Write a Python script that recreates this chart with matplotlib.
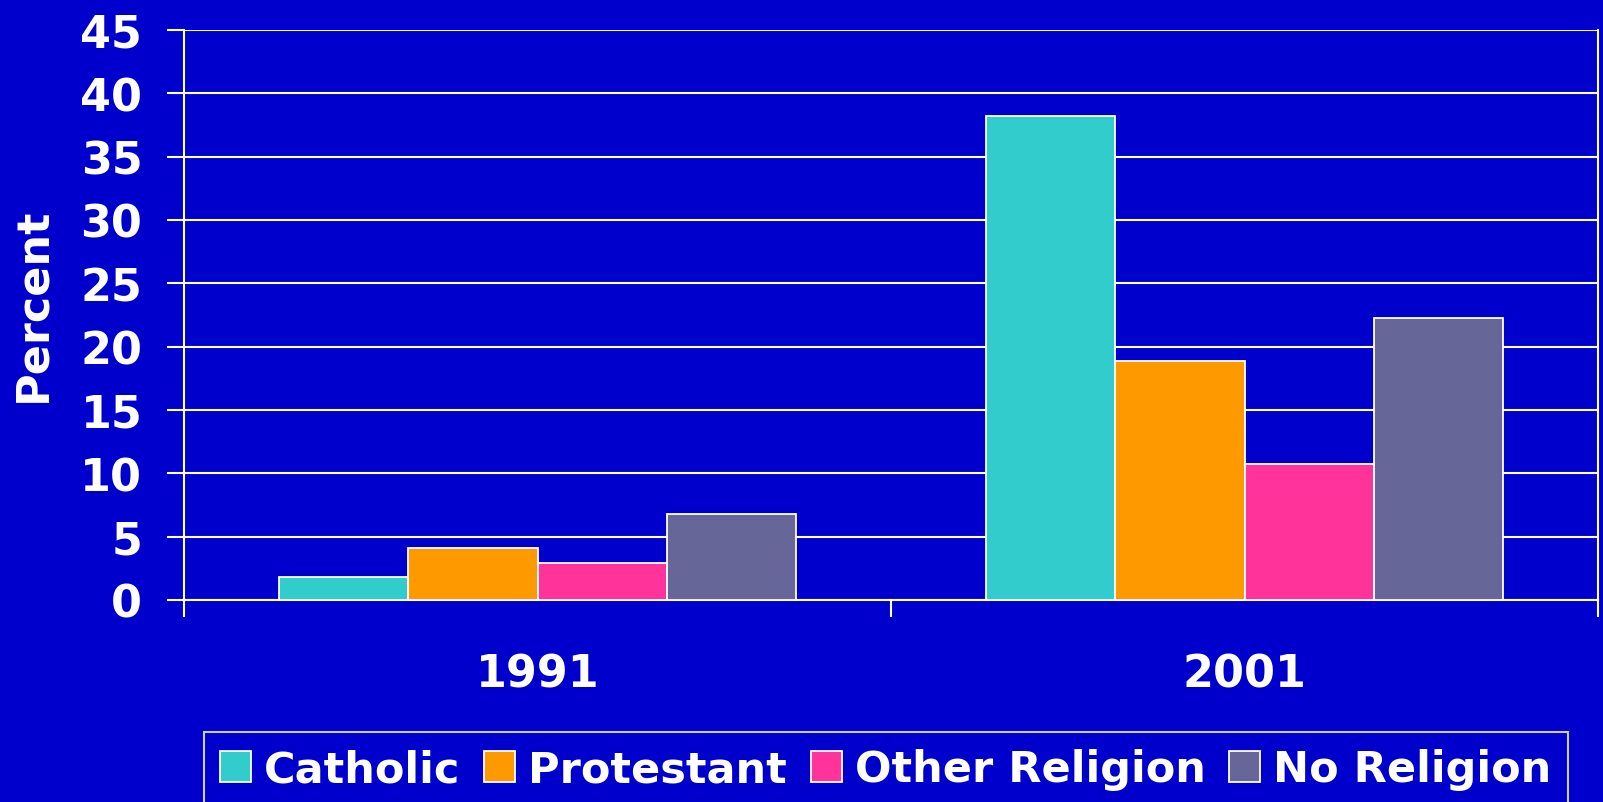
import matplotlib
matplotlib.use("Agg")
import matplotlib.pyplot as plt
import numpy as np

years = ["1991", "2001"]
series_names = ["Catholic", "Protestant", "Other Religion", "No Religion"]
catholic = [1.8, 38.2]
protestant = [4.1, 18.9]
other_religion = [2.9, 10.7]
no_religion = [6.8, 22.3]
y_ticks = [0, 5, 10, 15, 20, 25, 30, 35, 40, 45]

values = [catholic, protestant, other_religion, no_religion]
colors = ["#33CCCC", "#FF9900", "#FF3399", "#666699"]
bg = "#0000CC"

plt.rcParams['font.family'] = ['DejaVu Sans']
plt.rcParams['font.weight'] = 'bold'

fig = plt.figure(figsize=(16.03, 8.03), dpi=100, facecolor=bg)
ax = fig.add_axes([184/1603, 1 - 601/803, (1598-184)/1603, (601-31)/803])
ax.set_facecolor(bg)

bw = 0.1825
centers = np.arange(len(years)) + 0.5
handles = []
for i, (name, vals, c) in enumerate(zip(series_names, values, colors)):
    h = ax.bar(centers + (i - 1.5) * bw, vals, width=bw, color=c,
               edgecolor="white", linewidth=1.3, label=name, zorder=3)
    handles.append(h)

ax.set_xlim(0, len(years))
ax.set_ylim(0, 45)
ax.set_yticks(y_ticks)
ax.set_yticklabels([str(t) for t in y_ticks], fontsize=32, fontweight='bold', color='white')
ax.yaxis.grid(True, color='white', linewidth=1.5, zorder=0)
ax.set_axisbelow(True)

ax.set_xticks(np.arange(len(years) + 1))
ax.set_xticklabels([])
ax.set_xticks(centers, minor=True)
ax.set_xticklabels(years, minor=True, fontsize=32, fontweight='bold', color='white')
ax.tick_params(axis='x', which='major', length=12, width=1.5, color='white', direction='out')
ax.tick_params(axis='x', which='minor', length=0, pad=38)
ax.tick_params(axis='y', length=12, width=1.5, color='white', pad=18)

for s in ['left', 'bottom', 'right']:
    ax.spines[s].set_color('white')
    ax.spines[s].set_linewidth(1.5)
ax.spines['top'].set_visible(False)

fig.text(33/1603, 1 - 305/803, "Percent", rotation=90, fontsize=32, fontweight='bold',
         color='white', ha='center', va='center')

leg = fig.legend(handles=handles, labels=series_names, ncol=4,
                 loc='upper left', bbox_to_anchor=(204/1603, 1 - 733/803),
                 fontsize=31, frameon=True, fancybox=False,
                 handlelength=0.72, handleheight=0.72, handletextpad=0.3,
                 columnspacing=0.55, borderpad=0.38, borderaxespad=0)
leg.get_frame().set_facecolor(bg)
leg.get_frame().set_edgecolor('white')
leg.get_frame().set_linewidth(1.5)
for t in leg.get_texts():
    t.set_color('white')
    t.set_fontweight('bold')

fig.savefig("out.png", dpi=100, facecolor=bg)
